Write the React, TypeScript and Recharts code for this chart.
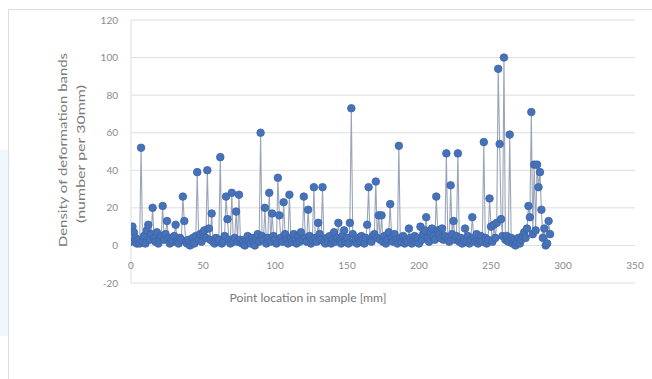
import React from 'react';
import { LineChart, Line, XAxis, YAxis, CartesianGrid } from 'recharts';

// Density of deformation bands, one value per mm from 0 mm
const densityValues: number[] = [
  2, 10, 7, 4, 1, 3, 1, 52, 2, 5,
  1, 8, 11, 3, 6, 20, 4, 2, 7, 1,
  3, 5, 21, 3, 6, 13, 4, 1, 3, 2,
  5, 11, 2, 1, 4, 3, 26, 13, 2, 1,
  3, 0, 2, 4, 1, 5, 39, 3, 6, 2,
  7, 8, 4, 40, 9, 3, 17, 2, 1, 4,
  2, 3, 47, 1, 2, 5, 26, 14, 3, 1,
  28, 2, 4, 18, 2, 27, 3, 1, 2, 0,
  3, 5, 2, 1, 4, 2, 0, 3, 6, 2,
  60, 5, 3, 20, 1, 4, 28, 2, 17, 5,
  3, 1, 36, 16, 4, 2, 23, 6, 3, 1,
  27, 4, 2, 6, 3, 1, 5, 2, 7, 3,
  26, 4, 2, 19, 5, 1, 3, 31, 4, 2,
  12, 6, 3, 31, 2, 1, 4, 2, 5, 1,
  3, 7, 2, 4, 12, 3, 1, 5, 8, 2,
  4, 1, 12, 73, 6, 2, 3, 1, 4, 2,
  5, 3, 1, 4, 11, 31, 3, 2, 5, 6,
  34, 4, 16, 3, 16, 2, 5, 1, 3, 7,
  22, 4, 2, 6, 3, 1, 53, 4, 2, 5,
  1, 3, 2, 9, 4, 1, 3, 5, 2, 4,
  1, 10, 3, 6, 8, 15, 4, 2, 7, 9,
  5, 3, 26, 8, 6, 4, 9, 3, 5, 49,
  4, 2, 32, 6, 13, 3, 5, 49, 2, 4,
  1, 3, 9, 2, 5, 1, 3, 15, 4, 2,
  6, 1, 3, 5, 2, 55, 4, 1, 3, 25,
  10, 2, 11, 4, 12, 94, 54, 14, 5, 100,
  3, 5, 2, 59, 4, 1, 3, 0, 2, 4,
  1, 3, 5, 7, 4, 9, 21, 15, 71, 6,
  43, 8, 43, 31, 39, 19, 4, 9, 0, 1,
  13, 6,
];
const STEP_MM = 1;

const xTicks = [0, 50, 100, 150, 200, 250, 300, 350];
const yTicks = [-20, 0, 20, 40, 60, 80, 100, 120];

const xTitle = 'Point location in sample [mm]';
const yTitleLine1 = 'Density of deformation bands';
const yTitleLine2 = '(number per 30mm)';

const data = densityValues.map((v, i) => ({ location: i * STEP_MM, density: v }));

const FONT = 'Lato, "Open Sans", sans-serif';
const LABEL_COLOR = '#8a8a8a';
const TITLE_COLOR = '#7a7a7a';

const XTick = (props: any) => {
  const { x, y, payload } = props;
  return (
    <text x={x} y={y - 22} textAnchor="middle" fontSize={10} fill={LABEL_COLOR} fontFamily={FONT}>
      {payload.value}
    </text>
  );
};

export default function App() {
  return (
    <div style={{ position: 'absolute', left: 0, top: 0, width: 652, height: 379, background: '#fff', overflow: 'hidden' }}>
      <div style={{ position: 'absolute', left: 0, top: 150, width: 30, height: 16, background: '#eef7fc' }} />
      <div style={{ position: 'absolute', left: 0, top: 166, width: 8, height: 170, background: '#eff7fc' }} />
      <div
        style={{
          position: 'absolute',
          left: 8,
          top: 9,
          width: 700,
          height: 420,
          border: '1px solid #dcdcdc',
          boxSizing: 'border-box',
          background: '#fff',
        }}
      />
      <div style={{ position: 'absolute', left: 0, top: 0 }}>
        <LineChart width={652} height={379} data={data} margin={{ top: 20, right: 17, bottom: 66, left: 0 }}>
          <CartesianGrid horizontal vertical={false} stroke="#dedede" strokeWidth={1} />
          <XAxis
            dataKey="location"
            type="number"
            domain={[0, 350]}
            ticks={xTicks}
            interval={0}
            axisLine={false}
            tickLine={false}
            tickSize={6}
            tickMargin={2}
            height={30}
            tick={<XTick />}
            allowDataOverflow
          />
          <YAxis
            type="number"
            domain={[-20, 120]}
            ticks={yTicks}
            interval={0}
            width={131}
            axisLine={{ stroke: '#dedede' }}
            tickLine={false}
            tickSize={6}
            tickMargin={7}
            tick={{ fontSize: 10, fill: LABEL_COLOR, fontFamily: FONT }}
            allowDataOverflow
          />
          <Line
            type="linear"
            dataKey="density"
            stroke="#9aa5ba"
            strokeWidth={1.1}
            dot={{ r: 3.8, fill: '#4672b9', stroke: '#3e64a6', strokeWidth: 0.8 }}
            activeDot={false}
            isAnimationActive={false}
          />
        </LineChart>
      </div>
      <svg width={652} height={379} style={{ position: 'absolute', left: 0, top: 0, pointerEvents: 'none' }}>
        <text
          x={308}
          y={302}
          textAnchor="middle"
          fontSize={11}
          fill={TITLE_COLOR}
          fontFamily={FONT}
          textLength={157}
          lengthAdjust="spacingAndGlyphs"
        >
          {xTitle}
        </text>
        <text
          transform="translate(67,150) rotate(-90)"
          textAnchor="middle"
          fontSize={10.5}
          fill={TITLE_COLOR}
          fontFamily={FONT}
          textLength={194}
          lengthAdjust="spacingAndGlyphs"
        >
          {yTitleLine1}
        </text>
        <text
          transform="translate(85,154) rotate(-90)"
          textAnchor="middle"
          fontSize={10.5}
          fill={TITLE_COLOR}
          fontFamily={FONT}
          textLength={138}
          lengthAdjust="spacingAndGlyphs"
        >
          {yTitleLine2}
        </text>
      </svg>
    </div>
  );
}
